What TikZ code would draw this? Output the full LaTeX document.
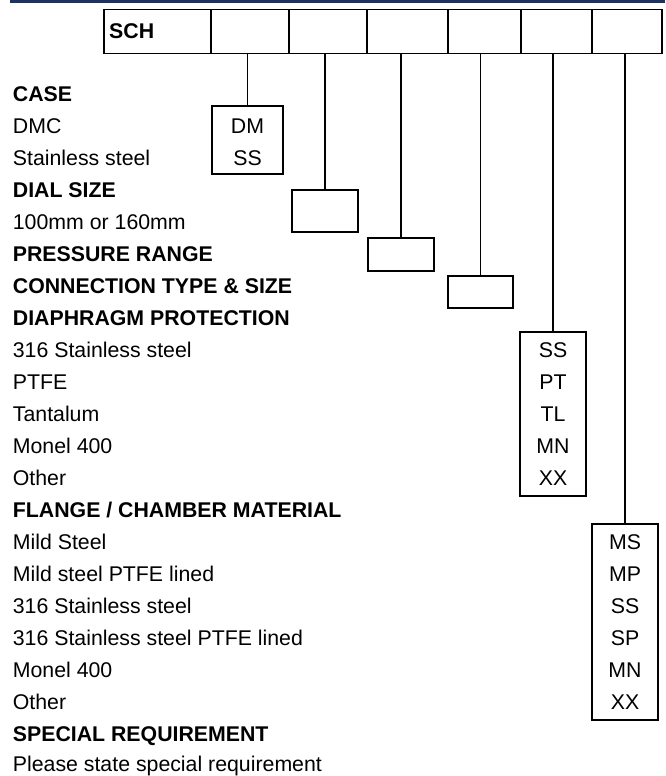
\documentclass[tikz,border=0pt]{standalone}
\usepackage{fontspec}
\setmainfont{Liberation Sans}
\definecolor{navy}{RGB}{28,51,100}
\begin{document}
\begin{tikzpicture}[x=1pt,y=-1pt,
  lbl/.style={anchor=base west, inner sep=0, font=\fontsize{21.3}{25}\selectfont},
  hd/.style={anchor=base west, inner sep=0, font=\fontsize{21.3}{25}\selectfont\bfseries},
  code/.style={anchor=base, inner sep=0, font=\fontsize{21.3}{25}\selectfont},
  cell/.style={draw, line width=1.5pt, inner sep=0, minimum height=44pt},
  codebox/.style={draw, line width=1.5pt, inner sep=0},
  link/.style={line width=1.5pt}]
\useasboundingbox (0,0) rectangle (665,776);
\fill[navy] (10,0) rectangle (665,2.8);
% header cells
\node[cell, minimum width=107pt] (h0) at (157.5,31.3) {};
\node[cell, minimum width=78pt] (h1) at (250,31.3) {};
\node[cell, minimum width=78pt] (h2) at (328,31.3) {};
\node[cell, minimum width=81pt] (h3) at (407.5,31.3) {};
\node[cell, minimum width=73pt] (h4) at (484.5,31.3) {};
\node[cell, minimum width=71pt] (h5) at (556.5,31.3) {};
\node[cell, minimum width=70pt] (h6) at (627,31.3) {};
\node[hd] (sch) at (109,38) {SCH};
% left labels
\node[hd]  (l0)  at (12.7,101.5) {CASE};
\node[lbl] (l1)  at (12.7,133.5) {DMC};
\node[lbl] (l2)  at (12.7,165.5) {Stainless steel};
\node[hd]  (l3)  at (12.7,197.5) {DIAL SIZE};
\node[lbl] (l4)  at (12.7,229.5) {100mm or 160mm};
\node[hd]  (l5)  at (12.7,261.5) {PRESSURE RANGE};
\node[hd]  (l6)  at (12.7,293.5) {CONNECTION TYPE \& SIZE};
\node[hd]  (l7)  at (12.7,325.5) {DIAPHRAGM PROTECTION};
\node[lbl] (l8)  at (12.7,357.5) {316 Stainless steel};
\node[lbl] (l9)  at (12.7,389.5) {PTFE};
\node[lbl] (l10) at (12.7,421.5) {Tantalum};
\node[lbl] (l11) at (12.7,453.5) {Monel 400};
\node[lbl] (l12) at (12.7,485.5) {Other};
\node[hd]  (l13) at (12.7,517.5) {FLANGE / CHAMBER MATERIAL};
\node[lbl] (l14) at (12.7,549.5) {Mild Steel};
\node[lbl] (l15) at (12.7,581.5) {Mild steel PTFE lined};
\node[lbl] (l16) at (12.7,613.5) {316 Stainless steel};
\node[lbl] (l17) at (12.7,645.5) {316 Stainless steel PTFE lined};
\node[lbl] (l18) at (12.7,677.5) {Monel 400};
\node[lbl] (l19) at (12.7,709.5) {Other};
\node[hd]  (l20) at (12.7,741.5) {SPECIAL REQUIREMENT};
\node[lbl] (l21) at (12.7,771) {Please state special requirement};
% code boxes
\node[codebox, minimum width=71pt, minimum height=68pt] (bcase) at (247.5,140) {};
\node[codebox, minimum width=66pt, minimum height=42pt] (bdial) at (325,211) {};
\node[codebox, minimum width=66pt, minimum height=33pt] (bpres) at (401,254.5) {};
\node[codebox, minimum width=65pt, minimum height=32pt] (bconn) at (480.5,292) {};
\node[codebox, minimum width=66pt, minimum height=164pt] (bdiaph) at (553,414) {};
\node[codebox, minimum width=66pt, minimum height=196pt] (bflange) at (625,622) {};
% codes
\node[code] (cdm) at (247.5,133.5) {DM};
\node[code] (css) at (247.5,165.5) {SS};
\node[code] (d1) at (553,357.5) {SS};
\node[code] (d2) at (553,389.5) {PT};
\node[code] (d3) at (553,421.5) {TL};
\node[code] (d4) at (553,453.5) {MN};
\node[code] (d5) at (553,485.5) {XX};
\node[code] (f1) at (625,549.5) {MS};
\node[code] (f2) at (625,581.5) {MP};
\node[code] (f3) at (625,613.5) {SS};
\node[code] (f4) at (625,645.5) {SP};
\node[code] (f5) at (625,677.5) {MN};
\node[code] (f6) at (625,709.5) {XX};
% connectors
\draw[link] (bcase.north) -- (bcase.north |- h1.south);
\draw[link] (bdial.north) -- (bdial.north |- h2.south);
\draw[link] (bpres.north) -- (bpres.north |- h3.south);
\draw[link] (bconn.north) -- (bconn.north |- h4.south);
\draw[link] (bdiaph.north) -- (bdiaph.north |- h5.south);
\draw[link] (bflange.north) -- (bflange.north |- h6.south);
\end{tikzpicture}
\end{document}
